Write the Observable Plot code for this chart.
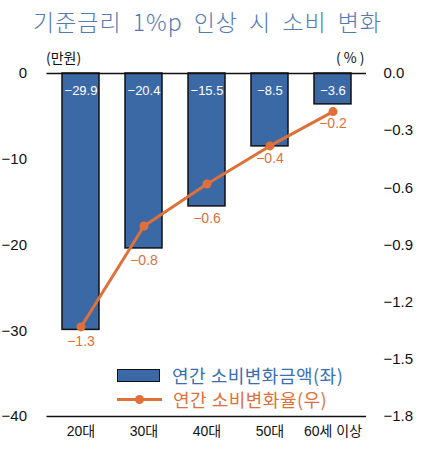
<!DOCTYPE html>
<html>
<head>
<meta charset="utf-8">
<script src="https://cdn.jsdelivr.net/npm/d3@7"></script>
<script src="https://cdn.jsdelivr.net/npm/@observablehq/plot@0.6"></script>
<style>
  body { margin: 0; background: #fff; font-family: "Liberation Sans", "Noto Sans CJK KR", sans-serif; }
  #wrap { position: relative; width: 435px; height: 456px; }
  #title { height: 45px; box-sizing: border-box; padding: 6px 0 0 33px; font-family: "Noto Sans CJK KR", sans-serif; font-size: 23px; font-weight: 300; color: #5479b4; letter-spacing: 1px; word-spacing: 5px; white-space: nowrap; line-height: 30px; }
  .unit { position: absolute; top: 47px; font-size: 14px; color: #111; font-family: "Noto Sans CJK KR", sans-serif; }
  .leg { position: absolute; left: 117px; font-size: 18px; letter-spacing: 0.5px; display: flex; align-items: center; white-space: nowrap; font-family: "Noto Sans CJK KR", sans-serif; }
  .sw-bar { width: 41px; height: 11px; background: #3b69a5; border: 1.5px solid #111; margin-right: 12px; }
  .sw-line { position: relative; width: 45px; height: 3px; background: #e0703a; margin-right: 11px; }
  .sw-line::after { content: ""; position: absolute; left: 18px; top: -3px; width: 9px; height: 9px; border-radius: 50%; background: #e0703a; }
</style>
</head>
<body>
<div id="wrap">
  <div id="title">기준금리 1%p 인상 시 소비 변화</div>
  <div class="unit" style="left:46px">(만원)</div>
  <div class="unit" style="left:336px;letter-spacing:3px">(%)</div>
  <div id="chart"></div>
  <div class="leg" style="top:362px;color:#3a6fb0"><span class="sw-bar"></span>연간 소비변화금액(좌)</div>
  <div class="leg" style="top:386px;color:#e0703a"><span class="sw-line"></span>연간 소비변화율(우)</div>
</div>
<script>
const ages = ["20대", "30대", "40대", "50대", "60세 이상"];
const amounts = [-29.9, -20.4, -15.5, -8.5, -3.6];
const rates = [-1.33, -0.80, -0.58, -0.38, -0.20];
const leftTicks = [0, -10, -20, -30, -40];
const rightTicks = [0, -0.3, -0.6, -0.9, -1.2, -1.5, -1.8];

const k = 40 / 1.8;
const data = ages.map((a, i) => ({age: a, amount: amounts[i], rate: rates[i]}));
const minus = s => s.replace("-", "\u2212");
const blue = "#3b69a5", orange = "#e0703a";

const chart = Plot.plot({
  width: 435,
  height: 411,
  marginTop: 28,
  marginBottom: 40,
  marginLeft: 46.5,
  marginRight: 69,
  style: {fontFamily: "'Liberation Sans', 'Noto Sans CJK KR', sans-serif", fontSize: "14px", color: "#111", background: "transparent"},
  x: {domain: ages, paddingInner: 0.42, paddingOuter: 0.21, label: null},
  y: {domain: [-40, 0], label: null},
  marks: [
    Plot.barY(data, {x: "age", y: "amount", fill: blue, stroke: "#111", strokeWidth: 1.5}),
    Plot.ruleY([0], {stroke: "#111", strokeWidth: 1.5}),
    Plot.ruleY([-40], {stroke: "#111", strokeWidth: 1.5}),
    Plot.axisY(leftTicks, {anchor: "left", tickSize: 0, tickPadding: 20, tickFormat: d => minus(String(d)), fontSize: 15, label: null}),
    Plot.axisY(rightTicks.map(v => v * k), {anchor: "right", tickSize: 0, tickPadding: 17, tickFormat: d => minus((d / k).toFixed(1)), fontSize: 15, letterSpacing: "1px", label: null}),
    Plot.axisX({tickSize: 0, tickPadding: 10, fontSize: 14, label: null}),
    Plot.line(data, {x: "age", y: d => d.rate * k, stroke: orange, strokeWidth: 3}),
    Plot.dot(data, {x: "age", y: d => d.rate * k, r: 4.5, fill: orange}),
    Plot.text(data, {x: "age", y: 0, text: d => minus(d.amount.toFixed(1)), fill: "white", dy: 17, fontSize: 13, letterSpacing: "-1px"}),
    Plot.text(data, {x: "age", y: d => Math.min(d.amount, d.rate * k), text: d => minus(d.rate.toFixed(1)), fill: orange, dy: 12, fontSize: 14, letterSpacing: "-1px"})
  ]
});
document.getElementById("chart").appendChild(chart);
</script>
</body>
</html>
